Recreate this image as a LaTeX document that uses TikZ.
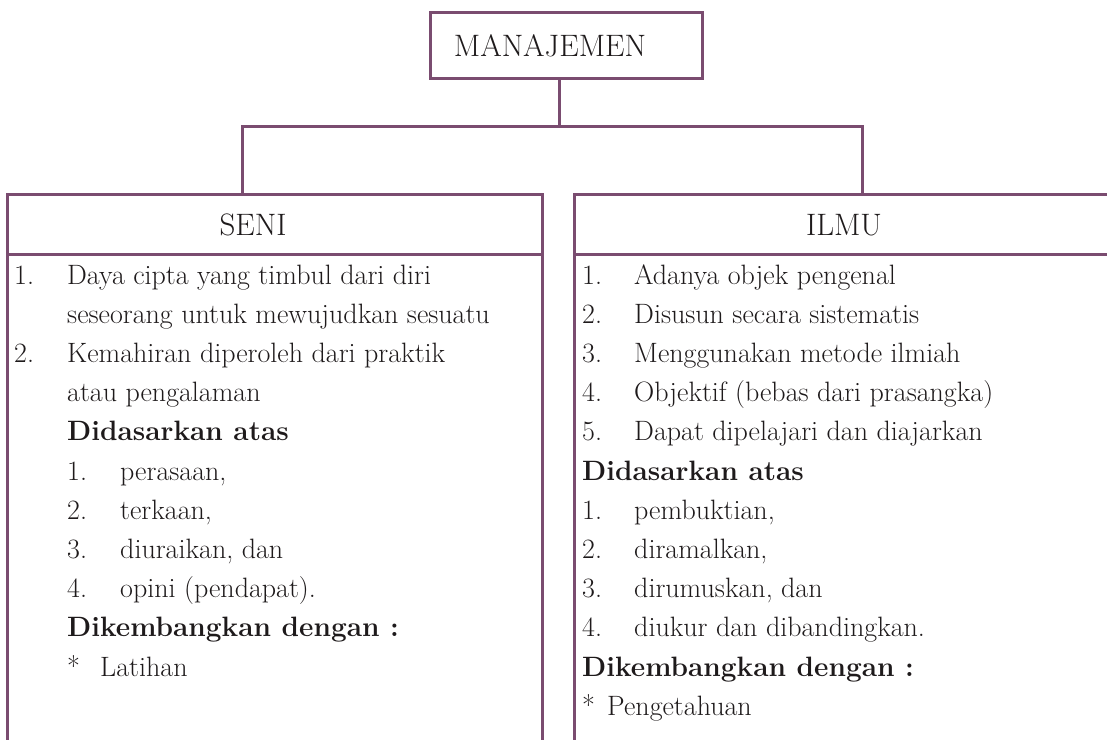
\documentclass[tikz,border=0pt]{standalone}
\usepackage{fontspec}
\definecolor{frame}{RGB}{122,76,112}
\definecolor{ink}{RGB}{30,26,27}
\tikzset{
  every node/.style={text=ink, font=\fontsize{28}{39}\selectfont, inner sep=0pt},
  ln/.style={draw=frame, line width=3pt},
  txt/.style={anchor=mid west},
  hd/.style={anchor=center, font=\fontsize{31}{39}\selectfont},
  bb/.style={anchor=mid west, font=\fontsize{28}{39}\selectfont\bfseries},
}
\begin{document}
\begin{tikzpicture}[x=1pt, y=-1pt]
\useasboundingbox (0,0) rectangle (1107,739);
% top box
\node[ln, minimum width=272pt, minimum height=66pt] (man) at (566,45) {};
\node[hd] (mant) at (550,46) {MANAJEMEN};
% connector
\coordinate (j) at (559,126);
\coordinate (sl) at (242,194);
\coordinate (sr) at (862,194);
\draw[ln] (man.south -| j) -- (j);
\draw[ln] (sl) |- (j) -| (sr);
% left box
\draw[ln] (7,745) -- (7,194) -- (542,194) -- (542,745);
\draw[ln] (7,254) -- (542,254);
% right box
\draw[ln] (574,745) -- (574,194) -- (1115,194);
\draw[ln] (574,254) -- (1115,254);
% headers
\node[hd] (seni) at (253,225) {SENI};
\node[hd] (ilmu) at (844,225) {ILMU};
% left column
\def\dy{39.2}
\node[txt] (l0n) at (14,282) {1.};
\node[txt] (l0) at (67,282) {Daya cipta yang timbul dari diri};
\node[txt] (l1) at (67,282+1*\dy) {seseorang untuk mewujudkan sesuatu};
\node[txt] (l2n) at (14,282+2*\dy) {2.};
\node[txt] (l2) at (67,282+2*\dy) {Kemahiran diperoleh dari praktik};
\node[txt] (l3) at (67,282+3*\dy) {atau pengalaman};
\node[bb] (l4) at (67,282+4*\dy) {Didasarkan atas};
\node[txt] (l5n) at (67,282+5*\dy) {1.};
\node[txt] (l5) at (120,282+5*\dy) {perasaan,};
\node[txt] (l6n) at (67,282+6*\dy) {2.};
\node[txt] (l6) at (120,282+6*\dy) {terkaan,};
\node[txt] (l7n) at (67,282+7*\dy) {3.};
\node[txt] (l7) at (120,282+7*\dy) {diuraikan, dan};
\node[txt] (l8n) at (67,282+8*\dy) {4.};
\node[txt] (l8) at (120,282+8*\dy) {opini (pendapat).};
\node[bb] (l9) at (67,282+9*\dy) {Dikembangkan dengan :};
\node[txt] (l10n) at (67,282+10*\dy) {*};
\node[txt] (l10) at (100,282+10*\dy) {Latihan};
% right column
\node[txt] (r0n) at (582,282) {1.};
\node[txt] (r0) at (634,282) {Adanya objek pengenal};
\node[txt] (r1n) at (582,282+1*\dy) {2.};
\node[txt] (r1) at (634,282+1*\dy) {Disusun secara sistematis};
\node[txt] (r2n) at (582,282+2*\dy) {3.};
\node[txt] (r2) at (634,282+2*\dy) {Menggunakan metode ilmiah};
\node[txt] (r3n) at (582,282+3*\dy) {4.};
\node[txt] (r3) at (634,282+3*\dy) {Objektif (bebas dari prasangka)};
\node[txt] (r4n) at (582,282+4*\dy) {5.};
\node[txt] (r4) at (634,282+4*\dy) {Dapat dipelajari dan diajarkan};
\node[bb] (r5) at (582,282+5*\dy) {Didasarkan atas};
\node[txt] (r6n) at (582,282+6*\dy) {1.};
\node[txt] (r6) at (634,282+6*\dy) {pembuktian,};
\node[txt] (r7n) at (582,282+7*\dy) {2.};
\node[txt] (r7) at (634,282+7*\dy) {diramalkan,};
\node[txt] (r8n) at (582,282+8*\dy) {3.};
\node[txt] (r8) at (634,282+8*\dy) {dirumuskan, dan};
\node[txt] (r9n) at (582,282+9*\dy) {4.};
\node[txt] (r9) at (634,282+9*\dy) {diukur dan dibandingkan.};
\node[bb] (r10) at (582,282+10*\dy) {Dikembangkan dengan :};
\node[txt] (r11n) at (582,282+11*\dy) {*};
\node[txt] (r11) at (607,282+11*\dy) {Pengetahuan};
\end{tikzpicture}
\end{document}
